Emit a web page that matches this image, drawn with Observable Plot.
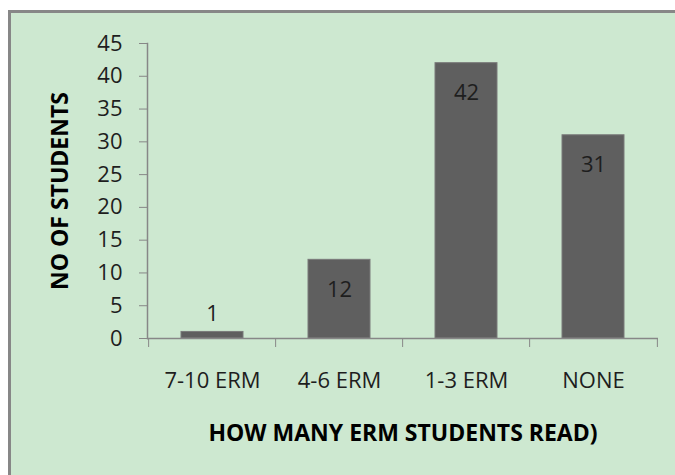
<!DOCTYPE html>
<html><head><meta charset="utf-8">
<script src="https://cdn.jsdelivr.net/npm/d3@7"></script>
<script src="https://cdn.jsdelivr.net/npm/@observablehq/plot@0.6"></script>
<style>
body{margin:0;background:#fff;}
#wrap{position:relative;width:675px;height:475px;overflow:hidden;}
#frame{position:absolute;left:8px;top:10px;right:0;bottom:0;background:#cde8d0;border-top:3px solid #878787;border-left:3px solid #878787;}
#chart{position:absolute;left:0;top:0;}
</style></head><body>
<div id="wrap"><div id="frame"></div><div id="chart"></div></div>
<script>
const categories = ["7-10 ERM", "4-6 ERM", "1-3 ERM", "NONE"];
const students = [1, 12, 42, 31];
const yTicks = [0, 5, 10, 15, 20, 25, 30, 35, 40, 45];
const xTitle = "HOW MANY ERM STUDENTS READ)";
const yTitle = "NO OF STUDENTS";

const data = categories.map((c, i) => ({category: c, value: students[i]}));

const W = 675, H = 475, mL = 147, mR = 17, mT = 43, mB = 137;
const step = (W - mL - mR) / categories.length;
const gray = "#878787";
const ink = "#1e1e1e";

const chart = Plot.plot({
  width: W,
  height: H,
  marginLeft: mL,
  marginRight: mR,
  marginTop: mT,
  marginBottom: mB,
  style: {background: "transparent", fontFamily: "'Open Sans', sans-serif", fontSize: "22px", color: ink},
  x: {domain: categories, paddingInner: 0.515, paddingOuter: 0.2575, label: null},
  y: {domain: [0, 45], label: null},
  marks: [
    Plot.barY(data, {x: "category", y: "value", fill: "#5f5f5f", stroke: "#7a7a7a", strokeWidth: 1}),
    Plot.frame({anchor: "left", stroke: gray, strokeWidth: 1.5}),
    Plot.ruleY([0], {stroke: gray, strokeWidth: 1.5}),
    Plot.axisY({ticks: yTicks, tickSize: 8, tickPadding: 17, stroke: gray, fill: ink, fontSize: 22, label: null}),
    Plot.axisX({ticks: categories, tickSize: 9, tickFormat: null, dx: -step / 2, stroke: gray, label: null}),
    Plot.axisX({ticks: categories.slice(-1), tickSize: 9, tickFormat: null, dx: step / 2, stroke: gray, label: null}),
    Plot.axisX({tickSize: 0, tickPadding: 34, fill: ink, fontSize: 22, label: null}),
    Plot.text(data.filter(d => d.value >= 5), {x: "category", y: "value", text: d => String(d.value), dy: 30, lineAnchor: "middle", fill: ink, fontSize: 22}),
    Plot.text(data.filter(d => d.value < 5), {x: "category", y: "value", text: d => String(d.value), dy: -18, lineAnchor: "middle", fill: ink, fontSize: 22}),
    Plot.text([xTitle], {frameAnchor: "bottom", dy: 95, lineAnchor: "middle", textAnchor: "middle", fontWeight: "bold", fontSize: 23, fill: "#000"}),
    Plot.text([yTitle], {frameAnchor: "left", dx: -87, rotate: -90, lineAnchor: "middle", textAnchor: "middle", fontWeight: "bold", fontSize: 23, fill: "#000"})
  ]
});
document.getElementById("chart").appendChild(chart);
</script>
</body></html>
